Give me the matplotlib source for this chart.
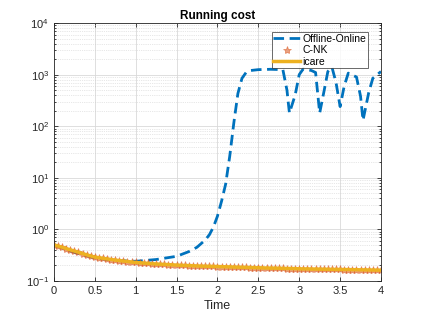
import numpy as np
import matplotlib
matplotlib.use("Agg")
import matplotlib.pyplot as plt
from matplotlib.ticker import LogLocator, NullFormatter

plt.rcParams['font.family'] = ['Liberation Sans', 'DejaVu Sans']
plt.rcParams['mathtext.fontset'] = 'custom'
plt.rcParams['mathtext.rm'] = 'Liberation Sans'

# Offline-Online run
t_offline = [0.0, 0.25, 0.5, 0.75, 1.0, 1.25, 1.5, 1.65, 1.75, 1.85, 1.9, 1.95, 2.0,
             2.05, 2.1, 2.15, 2.2, 2.25, 2.3, 2.35, 2.4, 2.5, 2.65, 2.8, 2.85, 2.88,
             2.95, 3.0, 3.05, 3.15, 3.2, 3.25, 3.3, 3.35, 3.4, 3.45, 3.5, 3.55, 3.6,
             3.7, 3.75, 3.78, 3.85, 3.9, 4.0]
cost_offline = [0.50, 0.36, 0.28, 0.25, 0.24, 0.26, 0.30, 0.37, 0.45, 0.62, 0.78,
                1.1, 1.8, 3.5, 7.5, 26, 115, 430, 850, 1100, 1200, 1250, 1270, 1250,
                500, 180, 400, 1000, 1300, 1200, 1100, 180, 450, 1150, 1400, 700, 240,
                600, 1070, 900, 380, 130, 450, 850, 1150]

# C-NK and icare (overlapping)
t_fine = [0.0, 0.05, 0.1, 0.15, 0.2, 0.25, 0.3, 0.35, 0.4, 0.45, 0.5, 0.55, 0.6,
          0.65, 0.7, 0.75, 0.8, 0.85, 0.9, 0.95, 1.0, 1.05, 1.1, 1.15, 1.2, 1.25,
          1.3, 1.35, 1.4, 1.45, 1.5, 1.55, 1.6, 1.65, 1.7, 1.75, 1.8, 1.85, 1.9,
          1.95, 2.0, 2.05, 2.1, 2.15, 2.2, 2.25, 2.3, 2.35, 2.4, 2.45, 2.5, 2.55,
          2.6, 2.65, 2.7, 2.75, 2.8, 2.85, 2.9, 2.95, 3.0, 3.05, 3.1, 3.15, 3.2,
          3.25, 3.3, 3.35, 3.4, 3.45, 3.5, 3.55, 3.6, 3.65, 3.7, 3.75, 3.8, 3.85,
          3.9, 3.95, 4.0]
cost_cnk = [0.500, 0.475, 0.450, 0.425, 0.400, 0.380, 0.360, 0.340, 0.320, 0.305,
            0.290, 0.282, 0.275, 0.267, 0.260, 0.254, 0.248, 0.243, 0.238, 0.233,
            0.228, 0.225, 0.222, 0.219, 0.216, 0.213, 0.211, 0.209, 0.207, 0.205,
            0.203, 0.201, 0.200, 0.198, 0.197, 0.195, 0.194, 0.193, 0.192, 0.191,
            0.190, 0.189, 0.188, 0.187, 0.186, 0.185, 0.184, 0.183, 0.182, 0.181,
            0.180, 0.179, 0.178, 0.177, 0.177, 0.176, 0.175, 0.174, 0.174, 0.173,
            0.172, 0.171, 0.171, 0.170, 0.170, 0.169, 0.169, 0.168, 0.168, 0.167,
            0.167, 0.166, 0.166, 0.165, 0.165, 0.164, 0.164, 0.163, 0.163, 0.162,
            0.162]
cost_icare = cost_cnk

fig = plt.figure(figsize=(4.21, 3.16), dpi=100)
ax = fig.add_axes([0.128, 0.111, 0.777, 0.816])

ax.plot(t_offline, cost_offline, color='#0072BD', lw=2, dashes=(3.8, 2.0),
        label='Offline-Online')
ax.plot(t_fine, cost_cnk, '*', color='#D95319', ms=6, mew=0.6, alpha=0.55,
        linestyle='none', label='C-NK')
ax.plot(t_fine, cost_icare, '-', color='#EDB120', lw=2.5, label='icare')

ax.set_yscale('log')
ax.set_xlim(0, 4)
ax.set_ylim(1e-1, 1e4)
ax.set_xticks([0, 0.5, 1, 1.5, 2, 2.5, 3, 3.5, 4])
ax.set_xticklabels(['0', '0.5', '1', '1.5', '2', '2.5', '3', '3.5', '4'])
ax.yaxis.set_major_locator(LogLocator(base=10, numticks=10))
ax.yaxis.set_minor_locator(LogLocator(base=10, subs=np.arange(2, 10), numticks=20))
ax.yaxis.set_minor_formatter(NullFormatter())

ax.grid(True, which='major', color='#d9d9d9', lw=0.6)
ax.grid(True, which='minor', axis='y', color='#d0d0d0', lw=0.5, linestyle=':')
ax.set_axisbelow(True)
ax.tick_params(which='both', direction='in', top=True, right=True,
               labelsize=8, colors='#262626', width=0.6)
ax.tick_params(which='major', length=3)
ax.tick_params(which='minor', length=1.5)
for s in ax.spines.values():
    s.set_color('#262626')
    s.set_linewidth(0.6)

ax.set_xlabel('Time', fontsize=9, color='#262626', labelpad=3)
ax.set_title('Running cost', fontsize=8.5, fontweight='bold', pad=3)

leg = ax.legend(loc='upper right', bbox_to_anchor=(0.96, 0.965), fontsize=7.5,
                frameon=True, fancybox=False, borderpad=0.15, labelspacing=0.15,
                handlelength=2.6, handletextpad=0.2, borderaxespad=0)
leg.get_frame().set_edgecolor('#262626')
leg.get_frame().set_linewidth(0.6)

fig.savefig('out.png', dpi=100)
